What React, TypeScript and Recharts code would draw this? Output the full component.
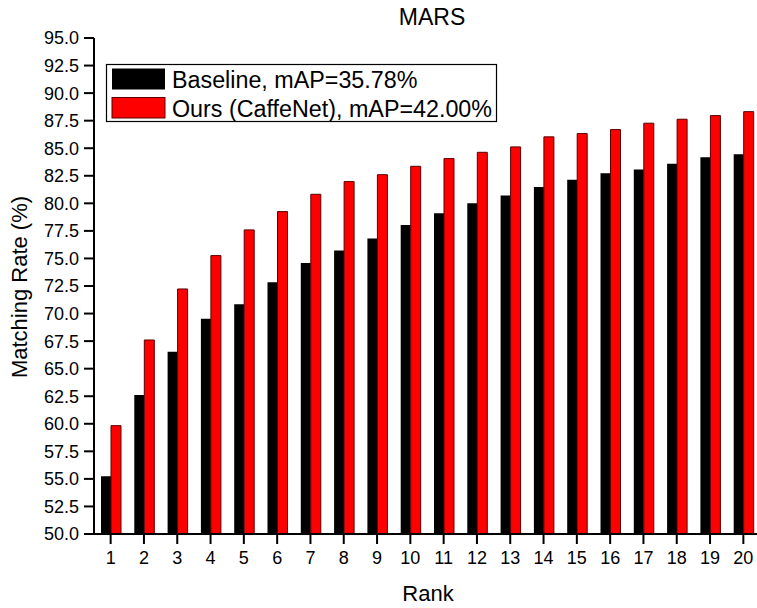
import React from 'react';
import { Bar, BarChart, XAxis, YAxis } from 'recharts';

// Rank 1..20
const ranks = Array.from({ length: 20 }, (_, i) => String(i + 1));
const baseline = [55.24, 62.61, 66.54, 69.54, 70.84, 72.84, 74.59, 75.71, 76.8, 78.04, 79.1, 80.0, 80.72, 81.49, 82.15, 82.73, 83.06, 83.58, 84.18, 84.45];
const ours = [59.83, 67.6, 72.23, 75.26, 77.59, 79.25, 80.82, 81.97, 82.6, 83.36, 84.06, 84.63, 85.12, 86.03, 86.33, 86.69, 87.27, 87.63, 87.96, 88.32];
const yTicks = [50, 52.5, 55, 57.5, 60, 62.5, 65, 67.5, 70, 72.5, 75, 77.5, 80, 82.5, 85, 87.5, 90, 92.5, 95];
const seriesNames = ['Baseline, mAP=35.78%', 'Ours (CaffeNet), mAP=42.00%'];

const data = ranks.map((r, i) => ({ rank: r, baseline: baseline[i], ours: ours[i] }));

const FONT = '"Liberation Sans", Arial, Helvetica, sans-serif';

export default function App() {
  return (
    <div style={{ position: 'fixed', left: 0, top: 0, width: 757, height: 608, overflow: 'hidden', background: '#fff', fontFamily: FONT }}>
      <BarChart
        width={770}
        height={608}
        data={data}
        margin={{ top: 38, right: 10, bottom: 44, left: 0 }}
        barGap={0}
        barSize={10}
      >
        <XAxis
          dataKey="rank"
          height={30}
          tickSize={10}
          tickMargin={7}
          interval={0}
          axisLine={{ stroke: '#000', strokeWidth: 2 }}
          tickLine={{ stroke: '#000', strokeWidth: 2 }}
          tick={{ fontSize: 18, fill: '#000', fontFamily: FONT }}
        />
        <YAxis
          width={94}
          domain={[50, 95]}
          ticks={yTicks}
          allowDataOverflow
          interval={0}
          tickSize={10}
          tickMargin={5}
          tickFormatter={(v: number) => v.toFixed(1)}
          axisLine={{ stroke: '#000', strokeWidth: 2 }}
          tickLine={{ stroke: '#000', strokeWidth: 2 }}
          tick={{ fontSize: 18, fill: '#000', fontFamily: FONT }}
        />
        <Bar dataKey="baseline" fill="#000" isAnimationActive={false} />
        <Bar dataKey="ours" fill="#ff0000" stroke="#5a0000" strokeWidth={1} isAnimationActive={false} />
      </BarChart>
      <svg width={757} height={608} style={{ position: 'absolute', left: 0, top: 0, pointerEvents: 'none' }}>
        <text x={432} y={25} textAnchor="middle" fontSize={23} fontFamily={FONT} fill="#000">MARS</text>
        <text x={428} y={601} textAnchor="middle" fontSize={22} fontFamily={FONT} fill="#000">Rank</text>
        <text x={27} y={287} textAnchor="middle" fontSize={22} fontFamily={FONT} fill="#000" transform="rotate(-90 27 287)">Matching Rate (%)</text>
        {/* legend */}
        <rect x={106.5} y={64.5} width={390} height={57} fill="#fff" stroke="#000" strokeWidth={1.2} />
        <rect x={112} y={68.5} width={53} height={21} fill="#000" />
        <rect x={112} y={97.5} width={53} height={20.5} fill="#ff0000" stroke="#5a0000" strokeWidth={1} />
        <text x={172} y={87.5} fontSize={23.3} fontFamily={FONT} fill="#000">{seriesNames[0]}</text>
        <text x={172} y={116.5} fontSize={23.3} fontFamily={FONT} fill="#000">{seriesNames[1]}</text>
      </svg>
    </div>
  );
}
